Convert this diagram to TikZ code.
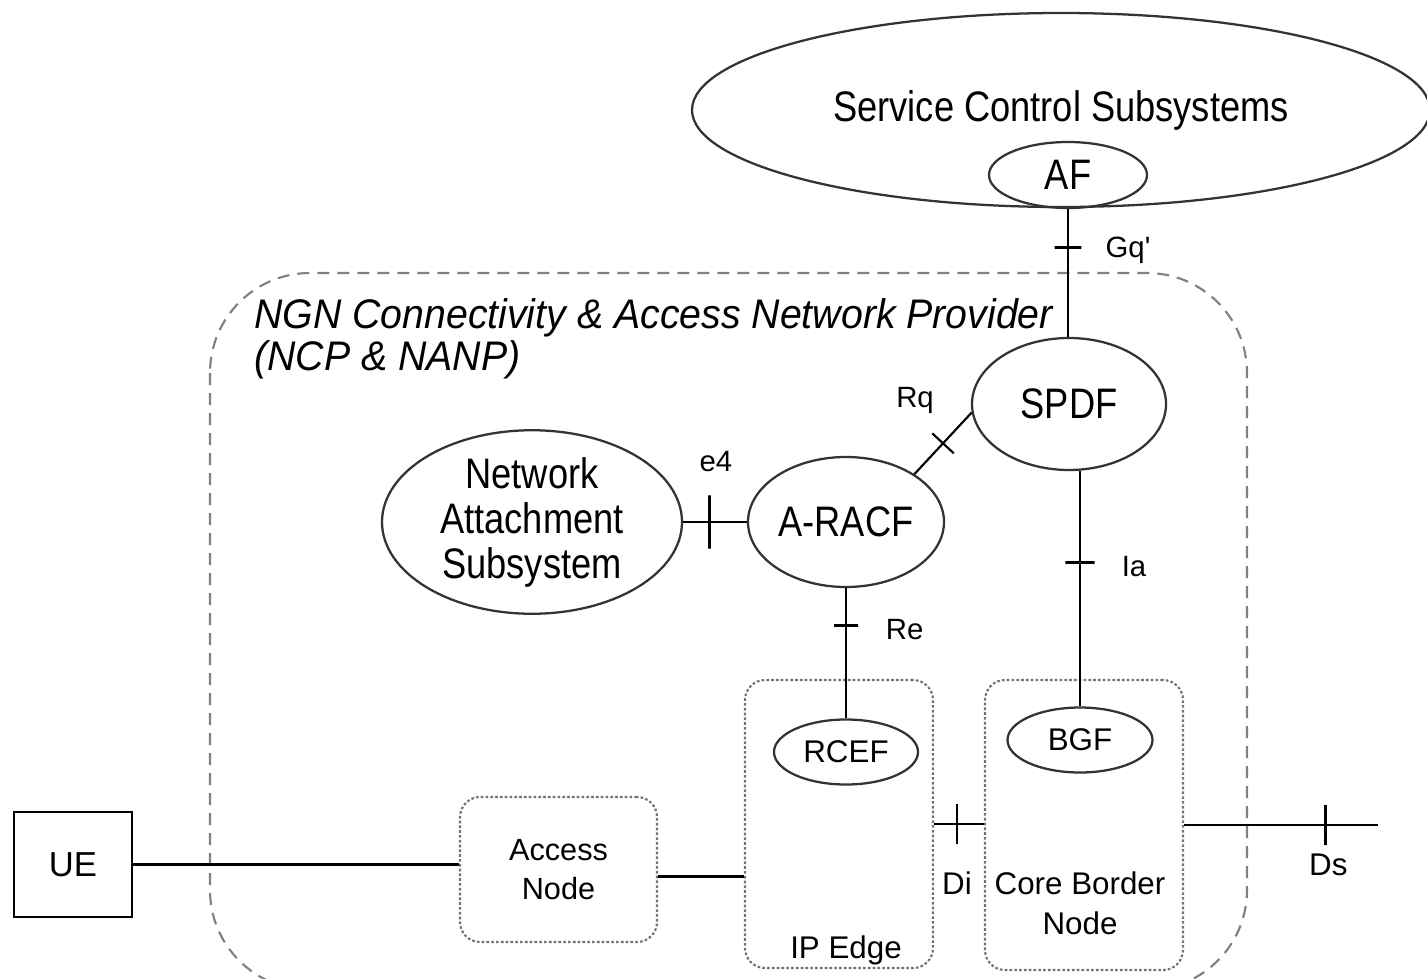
\documentclass[tikz,border=0pt]{standalone}
\usepackage{fontspec}
\setmainfont{Liberation Sans}
\newfontfamily\condfont[FakeStretch=0.85]{Liberation Sans}
\newfontfamily\ngnfont[FakeStretch=0.95]{Liberation Sans}
\usetikzlibrary{shapes.geometric,positioning}

\begin{document}
\begin{tikzpicture}[x=0.75pt,y=-0.75pt,
  fe/.style={ellipse,draw=black!80,line width=1.7pt,inner sep=0pt,align=center,
    font=\condfont\fontsize{32}{33.75}\selectfont},
  sfe/.style={ellipse,draw=black!80,line width=1.7pt,inner sep=0pt,
    font=\fontsize{23.5}{29}\selectfont},
  box/.style={draw=black!55,line width=1.6pt,dash pattern=on 2pt off 1.6pt,
    rounded corners=15pt,align=center,font=\fontsize{23}{29}\selectfont},
  link/.style={line width=2.2pt},
  tick/.style={draw,sloped,line width=2.2pt,inner sep=0pt,minimum width=0pt,minimum height=#1},
  lbl/.style={font=\fontsize{22}{26}\selectfont},
  boxtxt/.style={align=center,font=\fontsize{23.5}{30}\selectfont}]

\useasboundingbox (0,0) rectangle (1427,978);
\clip (0,0) rectangle (1427,978);

% NCP & NANP
\draw[black!50,line width=1.6pt,dash pattern=on 9pt off 6pt,rounded corners=75pt]
  (210,273) rectangle (1247,990);
\node[anchor=west,align=left,inner sep=0pt,font=\ngnfont\itshape\fontsize{31}{31.5}\selectfont]
  (ngn) at (254,339) {NGN Connectivity \& Access Network Provider\\(NCP \& NANP)};

% service control
\node[fe,minimum width=553.5pt,minimum height=145.5pt] (scs) at (1061,110) {Service Control Subsystems};
\node[fe,minimum width=118.5pt,minimum height=49.5pt] (af) at (1068,175) {AF};

% control
\node[fe,minimum width=145.5pt,minimum height=99pt] (spdf) at (1069,404) {SPDF};
\node[fe,minimum width=147pt,minimum height=97.5pt] (aracf) at (846,522) {A-RACF};
\node[fe,minimum width=225pt,minimum height=135pt] (nas) at (532,522) {Network\\Attachment\\Subsystem};

% transport
\node[box,minimum width=141pt,minimum height=216pt] (ipedge) at (839,824) {};
\node[box,minimum width=148.5pt,minimum height=217.5pt] (cbn) at (1084,825) {};
\node[box,minimum width=147.75pt,minimum height=108.75pt] (an) at (558.5,869.5) {Access\\Node};
\node[sfe,minimum width=108pt,minimum height=48.75pt] (rcef) at (846,752) {RCEF};
\node[sfe,minimum width=108.75pt,minimum height=48.75pt] (bgf) at (1080,740) {BGF};
\node[boxtxt] (ipedgetxt) at (846,950) {IP Edge};
\node[boxtxt] (cbntxt) at (1080,903) {Core Border\\Node};

\node[draw,line width=2.2pt,minimum width=88.5pt,minimum height=78.75pt,
  font=\fontsize{26}{30}\selectfont] (ue) at (73,864.5) {UE};
\coordinate (dsend) at (1378,824);

% reference points
\draw[link] (af.south) -- node[tick=20pt,pos=.3] (tgq) {}
  node[lbl,pos=.3,xshift=45pt,yshift=-2pt] (gq) {Gq\textquotesingle} (af.south |- spdf.north);
\draw[line width=1.6pt] (aracf.35) -- node[tick=22pt,pos=.5,line width=1.6pt] (trq) {}
  node[lbl,pos=.5,xshift=-21pt,yshift=32pt] (rq) {Rq} (spdf.185);
\draw[link] (nas.east) -- node[tick=40pt,pos=.42] (te4) {}
  node[lbl,pos=.42,xshift=4.5pt,yshift=45pt] (e4) {e4} (aracf.west);
\draw[link] (aracf.south) -- node[tick=18pt,pos=.29] (tre) {}
  node[lbl,pos=.29,xshift=44pt,yshift=-3pt] (re) {Re} (rcef.north);
\draw[link] (bgf.north |- spdf.south) -- node[tick=22pt,pos=.39] (tia) {}
  node[lbl,pos=.39,xshift=40.5pt,yshift=-3pt] (ia) {Ia} (bgf.north);
\draw[link] (ipedge.east) -- node[tick=30pt,pos=.46] (tdi) {}
  node[boxtxt,pos=.46,yshift=-44pt] (di) {Di} (ipedge.east -| cbn.west);
\draw[link] (cbn.east) -- node[tick=30pt,pos=.73] (tds) {}
  node[boxtxt,pos=.73,xshift=2pt,yshift=-30pt] (ds) {Ds} (cbn.east -| dsend);

% access
\draw[link] (ue.east) -- (ue.east -| an.west);
\draw[link] (an.east) ++(0,7) coordinate (anout) -- (anout -| ipedge.west);
\end{tikzpicture}
\end{document}
